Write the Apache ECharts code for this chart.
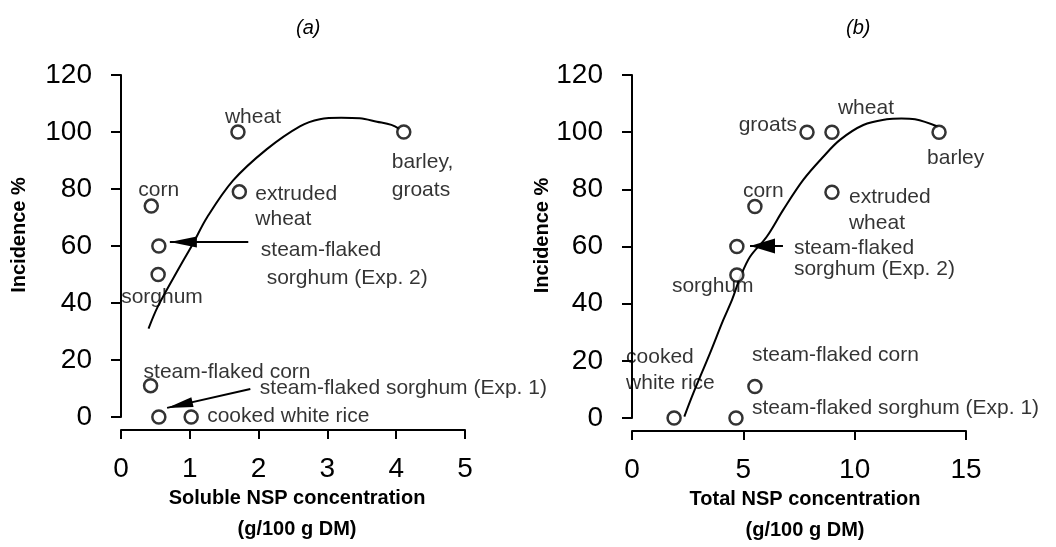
<!DOCTYPE html>
<html><head><meta charset="utf-8">
<script src="https://cdn.jsdelivr.net/npm/echarts@6/dist/echarts.min.js"></script>
<style>html,body{margin:0;padding:0;background:#fff}#c{width:1056px;height:547px}</style>
</head><body><div id="c"></div>
<script>
// ---------- Panel (a): soluble NSP ----------
const namesA = ['wheat', 'barley, groats', 'extruded wheat', 'corn', 'steam-flaked sorghum (Exp. 2)', 'sorghum', 'steam-flaked corn', 'steam-flaked sorghum (Exp. 1)', 'cooked white rice'];
const solubleNSP = [1.70, 4.11, 1.72, 0.44, 0.55, 0.54, 0.43, 0.55, 1.02];
const incidenceA = [100, 100, 79, 74, 60, 50, 11, 0, 0];
const labelTextA = ['wheat', 'barley,\ngroats', 'extruded\nwheat', 'corn', 'steam-flaked\n sorghum (Exp. 2)', 'sorghum', 'steam-flaked corn', 'steam-flaked sorghum (Exp. 1)', 'cooked white rice'];
const curveAx = [0.40, 0.54, 0.86, 1.05, 1.25, 1.63, 2.12, 2.60, 2.89, 3.20, 3.47, 3.72, 3.93, 4.05];
const curveAy = [31, 39, 53, 61, 70, 83, 94, 102, 104.5, 105, 104.8, 103.6, 102.5, 101];
const arrowA1 = [[1.85, 61.4], [0.71, 61.4]];
const arrowA2 = [[1.88, 9.8], [0.67, 3.2]];

// ---------- Panel (b): total NSP ----------
const namesB = ['cooked white rice', 'steam-flaked sorghum (Exp. 1)', 'steam-flaked corn', 'sorghum', 'steam-flaked sorghum (Exp. 2)', 'corn', 'extruded wheat', 'groats', 'wheat', 'barley'];
const totalNSP = [1.89, 4.67, 5.52, 4.71, 4.71, 5.52, 8.98, 7.86, 8.98, 13.79];
const incidenceB = [0, 0, 11, 50, 60, 74, 79, 100, 100, 100];
const labelTextB = ['cooked\nwhite rice', 'steam-flaked sorghum (Exp. 1)', 'steam-flaked corn', 'sorghum', 'steam-flaked\nsorghum (Exp. 2)', 'corn', 'extruded\nwheat', 'groats', 'wheat', 'barley'];
const curveBx = [2.35, 2.75, 3.50, 4.10, 4.50, 4.85, 5.30, 6.05, 6.79, 7.69, 8.59, 9.34, 10.39, 11.44, 12.1, 12.71, 13.75];
const curveBy = [0.5, 8.6, 22.6, 34.3, 41.5, 49, 56.4, 63.4, 72.8, 83.3, 91.4, 97.3, 102.5, 104.5, 104.8, 104.5, 101.9];
const arrowB1 = [[6.78, 60.2], [5.30, 60.2]];

// ---------- label layout (pixel offsets from point centre) ----------
// [dx, dy, align, lineHeight]
const layoutA = [[15, -15, 'center', 24], [-12, 44, 'left', 28], [16, 15, 'left', 25], [-13, -16, 'left', 24], [102, 18, 'left', 28], [-37, 23, 'left', 24], [-7, -13, 'left', 24], [101, -29, 'left', 24], [16, -1, 'left', 24]];
const layoutB = [[-48, -48, 'left', 26], [16, -10, 'left', 24], [-3, -31, 'left', 24], [-65, 11, 'left', 24], [57, 12, 'left', 21], [-12, -15, 'left', 24], [17, 18, 'left', 26], [-10, -7, 'right', 24], [6, -24, 'left', 24], [-12, 26, 'left', 24]];

const FONT = 'Liberation Sans, Arial, Helvetica, sans-serif';
const BLACK = '#000';

function pointItems(xs, ys, texts, layout, names) {
  return xs.map((x, i) => ({
    name: names[i],
    value: [x, ys[i]],
    label: {
      show: true, formatter: texts[i], position: 'inside',
      offset: [layout[i][0], layout[i][1]], align: layout[i][2], verticalAlign: 'middle',
      lineHeight: layout[i][3], color: BLACK, fontSize: 21, fontFamily: FONT,
      textBorderColor: 'transparent', textBorderWidth: 0
    }
  }));
}
const ARROW = 'path://M5,0 L10,20 L0,20 Z';
function arrowLine(a, w, h) {
  return [{ coord: a[0], symbol: 'none' }, { coord: a[1], symbol: ARROW, symbolSize: [w, h], symbolOffset: [0, h / 2] }];
}
function xAxisCfg(grid, max, interval, name, pad) {
  return {
    type: 'value', gridIndex: grid, min: 0, max: max, interval: interval, offset: 13,
    axisLine: { show: true, onZero: false, lineStyle: { color: BLACK, width: 2 } },
    axisTick: { show: true, length: 9, lineStyle: { color: BLACK, width: 2 } },
    splitLine: { show: false },
    axisLabel: { fontSize: 28, color: BLACK, fontFamily: FONT, margin: 25 },
    name: name, nameLocation: 'middle', nameGap: 53, nameMoveOverlap: false,
    nameTextStyle: { fontSize: 20, fontWeight: 'bold', color: BLACK, fontFamily: FONT, lineHeight: 31, padding: pad }
  };
}
function yAxisCfg(grid, gap) {
  return {
    type: 'value', gridIndex: grid, min: 0, max: 120, interval: 20, offset: 13,
    axisLine: { show: true, lineStyle: { color: BLACK, width: 2 } },
    axisTick: { show: true, length: 10, lineStyle: { color: BLACK, width: 2 } },
    splitLine: { show: false },
    axisLabel: { fontSize: 28, color: BLACK, fontFamily: FONT, margin: 16 },
    name: 'Incidence %', nameLocation: 'middle', nameGap: gap, nameMoveOverlap: false,
    nameTextStyle: { fontSize: 20, fontWeight: 'bold', color: BLACK, fontFamily: FONT, padding: [0, 0, 0, 22] }
  };
}
const curveStyle = { color: BLACK, width: 2 };
const pointStyle = { color: '#fff', borderColor: BLACK, borderWidth: 2.5 };

const option = {
  backgroundColor: '#fff',
  animation: false,
  title: [
    { text: '(a)', left: 296, top: 18, padding: 0, textStyle: { fontSize: 20, fontStyle: 'italic', fontWeight: 'normal', color: BLACK, fontFamily: FONT } },
    { text: '(b)', left: 846, top: 18, padding: 0, textStyle: { fontSize: 20, fontStyle: 'italic', fontWeight: 'normal', color: BLACK, fontFamily: FONT } }
  ],
  grid: [
    { left: 121, top: 75, width: 344, height: 342, outerBoundsMode: 'none', containLabel: false },
    { left: 632, top: 75, width: 334, height: 343, outerBoundsMode: 'none', containLabel: false }
  ],
  xAxis: [
    xAxisCfg(0, 5, 1, 'Soluble NSP concentration\n(g/100 g DM)', [0, 0, 0, 8]),
    xAxisCfg(1, 15, 5, 'Total NSP concentration\n(g/100 g DM)', [0, 0, 0, 12])
  ],
  yAxis: [yAxisCfg(0, 79), yAxisCfg(1, 67)],
  series: [
    {
      type: 'line', xAxisIndex: 0, yAxisIndex: 0, smooth: 0.35, showSymbol: false, silent: true,
      data: curveAx.map((x, i) => [x, curveAy[i]]), lineStyle: curveStyle, z: 2,
      markLine: {
        silent: true, symbol: 'none', label: { show: false }, lineStyle: { type: 'solid', color: BLACK, width: 2 },
        data: [arrowLine(arrowA1, 11, 27), arrowLine(arrowA2, 10, 26)]
      }
    },
    {
      type: 'scatter', xAxisIndex: 0, yAxisIndex: 0, symbol: 'circle', symbolSize: 13, z: 3,
      itemStyle: pointStyle, data: pointItems(solubleNSP, incidenceA, labelTextA, layoutA, namesA)
    },
    {
      type: 'line', xAxisIndex: 1, yAxisIndex: 1, smooth: 0.35, showSymbol: false, silent: true,
      data: curveBx.map((x, i) => [x, curveBy[i]]), lineStyle: curveStyle, z: 2,
      markLine: {
        silent: true, symbol: 'none', label: { show: false }, lineStyle: { type: 'solid', color: BLACK, width: 2 },
        data: [arrowLine(arrowB1, 15, 25)]
      }
    },
    {
      type: 'scatter', xAxisIndex: 1, yAxisIndex: 1, symbol: 'circle', symbolSize: 13, z: 3,
      itemStyle: pointStyle, data: pointItems(totalNSP, incidenceB, labelTextB, layoutB, namesB)
    }
  ]
};
const chart = echarts.init(document.getElementById('c'), null, { renderer: 'canvas' });
chart.setOption(option);
</script>
</body></html>
